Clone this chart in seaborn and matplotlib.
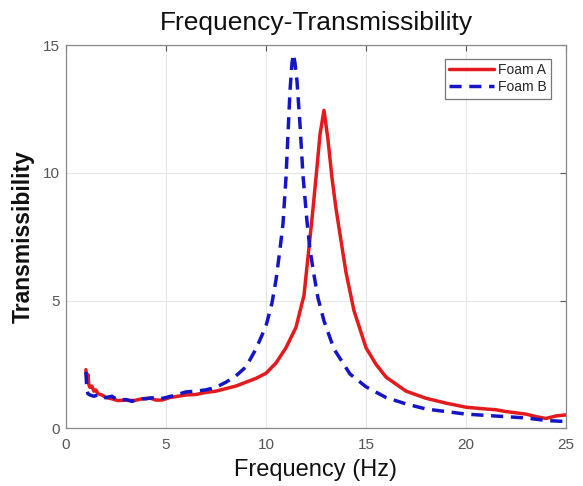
import matplotlib
matplotlib.use("Agg")
import matplotlib.pyplot as plt
import seaborn as sns
import pandas as pd

freq_a = [1.0, 1.05, 1.1, 1.15, 1.2, 1.3, 1.4, 1.5, 1.6, 1.8, 2.0, 2.3, 2.6, 3.0, 3.4, 3.8,
          4.2, 4.5, 4.8, 5.2, 5.6, 6.0, 6.5, 7.0, 7.5, 8.0, 8.5, 9.0, 9.5, 10.0, 10.5, 11.0,
          11.5, 11.9, 12.1, 12.3, 12.5, 12.7, 12.9, 13.1, 13.3, 13.5, 13.7, 14.0, 14.4, 15.0,
          15.5, 16.0, 17.0, 18.0, 19.0, 20.0, 21.0, 21.5, 22.0, 23.0, 23.5, 24.0, 24.5, 25.0]
trans_a = [2.29, 1.9, 2.1, 1.7, 1.6, 1.65, 1.45, 1.5, 1.35, 1.3, 1.2, 1.15, 1.08, 1.1, 1.08, 1.15,
           1.18, 1.1, 1.1, 1.2, 1.25, 1.3, 1.32, 1.4, 1.45, 1.55, 1.65, 1.8, 1.95, 2.15, 2.55, 3.15,
           3.95, 5.2, 6.7, 8.2, 9.8, 11.5, 12.45, 11.3, 9.8, 8.6, 7.6, 6.1, 4.6, 3.15,
           2.5, 2.0, 1.45, 1.17, 0.98, 0.82, 0.75, 0.72, 0.65, 0.55, 0.45, 0.38, 0.48, 0.52]

freq_b = [1.0, 1.05, 1.1, 1.2, 1.4, 1.6, 1.8, 2.0, 2.3, 2.6, 3.0, 3.3, 3.7, 4.0, 4.4, 4.7,
          5.0, 5.5, 6.0, 6.5, 7.0, 7.5, 8.0, 8.5, 9.0, 9.5, 10.0, 10.3, 10.5, 10.7, 10.85, 11.0,
          11.1, 11.2, 11.3, 11.37, 11.45, 11.55, 11.7, 11.85, 12.05, 12.2, 12.4, 12.6, 12.9,
          13.4, 14.2, 15.0, 16.0, 17.0, 18.0, 19.0, 20.0, 22.0, 23.0, 24.0, 25.0]
trans_b = [2.2, 1.5, 1.35, 1.3, 1.25, 1.3, 1.2, 1.2, 1.25, 1.1, 1.12, 1.05, 1.15, 1.15, 1.2, 1.15,
           1.2, 1.3, 1.42, 1.45, 1.5, 1.6, 1.8, 2.05, 2.4, 3.1, 4.0, 4.9, 5.8, 7.0, 8.0, 9.8,
           11.5, 13.2, 14.3, 14.65, 14.3, 13.6, 11.9, 9.9, 8.1, 7.0, 6.0, 5.1, 4.2,
           3.1, 2.12, 1.62, 1.2, 0.95, 0.75, 0.65, 0.55, 0.45, 0.4, 0.3, 0.26]

labels = ["Foam A", "Foam B"]
x_ticks = [0, 5, 10, 15, 20, 25]
y_ticks = [0, 5, 10, 15]

df = pd.concat([
    pd.DataFrame({"Frequency": freq_a, "Transmissibility": trans_a, "Sample": labels[0]}),
    pd.DataFrame({"Frequency": freq_b, "Transmissibility": trans_b, "Sample": labels[1]}),
], ignore_index=True)

sns.set_style("white")
plt.rcParams['font.family'] = ['Liberation Sans', 'DejaVu Sans']

fig = plt.figure(figsize=(5.83, 4.86), dpi=100)
ax = fig.add_axes([0.113, 0.119, 0.858, 0.788])

sns.lineplot(data=df, x="Frequency", y="Transmissibility", hue="Sample", style="Sample",
             palette={"Foam A": "#e41a1c", "Foam B": "#1515c8"},
             dashes={"Foam A": "", "Foam B": (3.5, 2.2)},
             linewidth=2.5, sort=False, estimator=None, ax=ax)

ax.set_xlim(0, 25)
ax.set_ylim(0, 15)
ax.set_xticks(x_ticks)
ax.set_yticks(y_ticks)
ax.grid(True, color="#e6e6e6", linewidth=0.8)
ax.tick_params(axis="both", direction="in", length=4, width=0.8, colors="#555555",
               labelsize=11, top=True, right=True, labelcolor="#555555")
ax.tick_params(axis="x", pad=7)
ax.tick_params(axis="y", pad=4)
for s in ax.spines.values():
    s.set_color("#888888")
    s.set_linewidth(0.9)

ax.set_title("Frequency-Transmissibility", fontsize=19, color="#111111", pad=11)
ax.set_xlabel("Frequency (Hz)", fontsize=17, color="#111111", labelpad=5)
ax.set_ylabel("Transmissibility", fontsize=16.5, fontweight="bold", color="#111111", labelpad=6)

leg = ax.legend(loc="upper right", fontsize=10, frameon=True, fancybox=False,
                handlelength=3.2, borderpad=0.3, labelspacing=0.25, handletextpad=0.3,
                bbox_to_anchor=(0.975, 0.972), borderaxespad=0.2)
leg.get_frame().set_edgecolor("#555555")
leg.get_frame().set_linewidth(0.9)
leg.set_title(None)

fig.savefig("out.png", dpi=100)
